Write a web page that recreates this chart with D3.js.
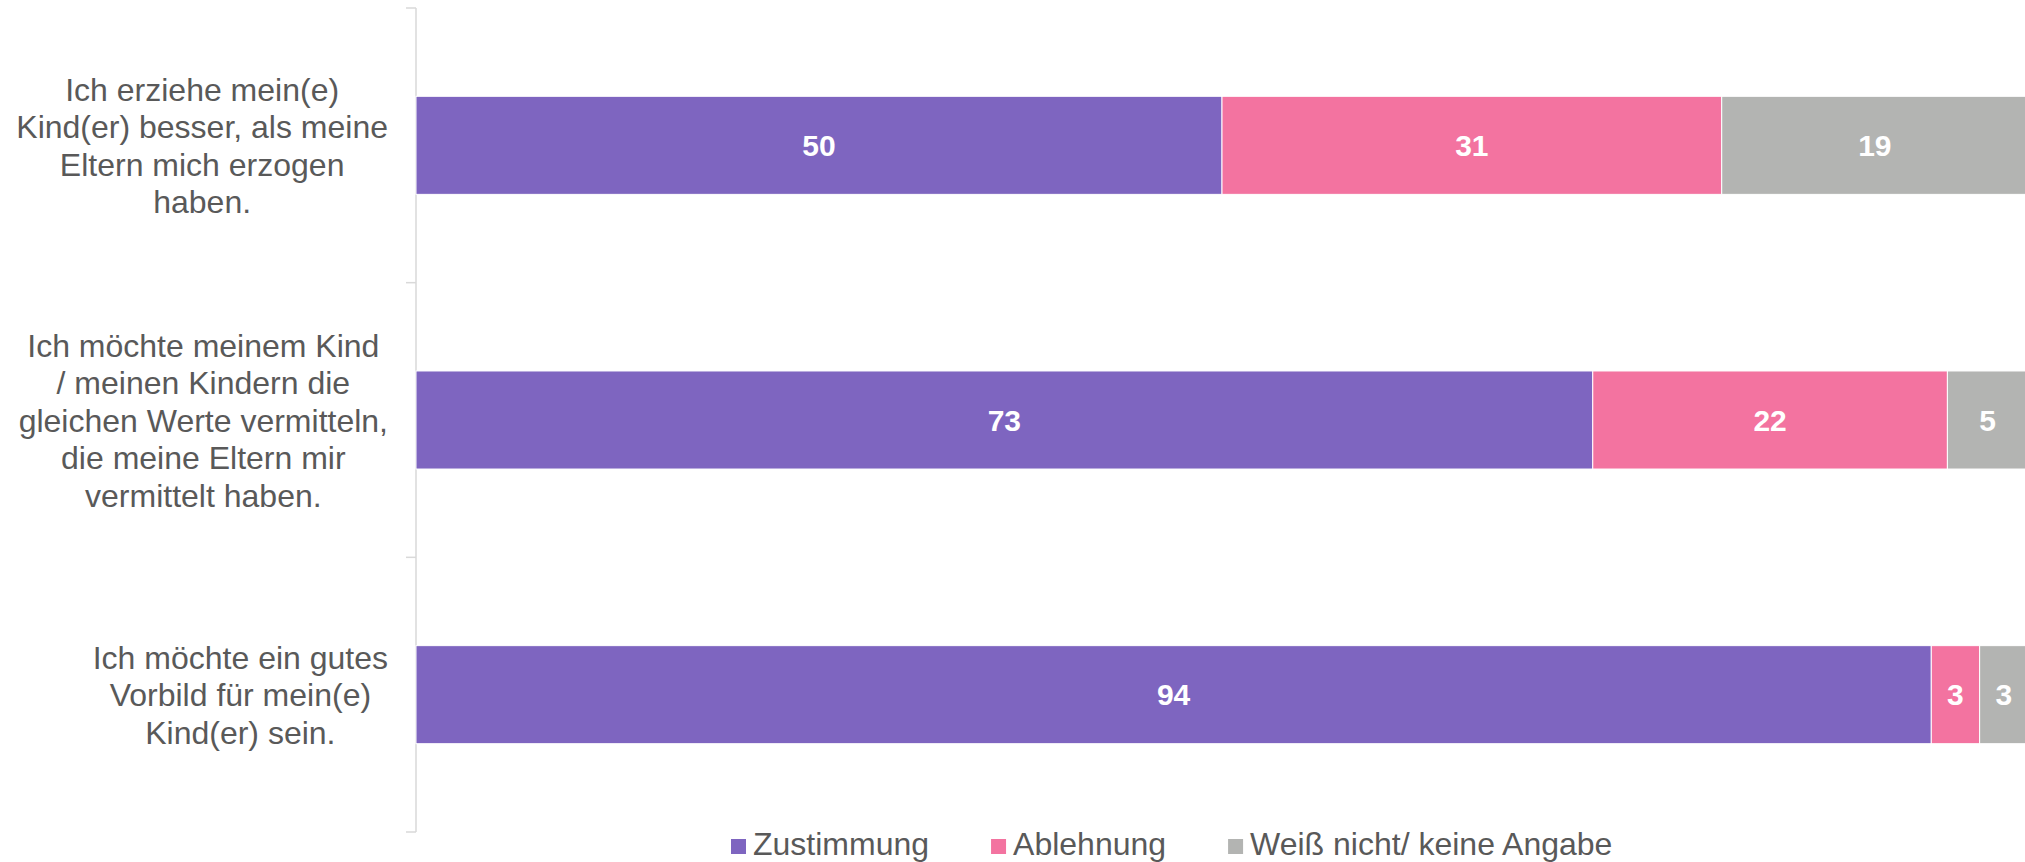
<!doctype html>
<html>
<head>
<meta charset="UTF-8">
<title>Erziehung</title>
<script src="https://d3js.org/d3.v7.min.js"></script>
<style>
  body { margin: 0; background: #fff; }
  svg { display: block; font-family: "Liberation Sans", Arial, sans-serif; }
</style>
</head>
<body>
<svg width="2025" height="862"></svg>
<script>
// data
var categories = ["erziehe", "werte", "vorbild"];
var categoryLines = [
  ["Ich erziehe mein(e)", "Kind(er) besser, als meine", "Eltern mich erzogen", "haben."],
  ["Ich möchte meinem Kind", "/ meinen Kindern die", "gleichen Werte vermitteln,", "die meine Eltern mir", "vermittelt haben."],
  ["Ich möchte ein gutes", "Vorbild für mein(e)", "Kind(er) sein."]
];
var seriesNames = ["Zustimmung", "Ablehnung", "Weiß nicht/ keine Angabe"];
var zustimmung = [50, 73, 94];
var ablehnung = [31, 22, 3];
var weissNicht = [19, 5, 3];
var colors = ["#7E65C0", "#F373A0", "#B3B4B2"];

var svg = d3.select("svg");
var textColor = "#595959";

var rows = categories.map(function(c, i){
  return { cat: c, s0: zustimmung[i], s1: ablehnung[i], s2: weissNicht[i] };
});
var stack = d3.stack().keys(["s0", "s1", "s2"])(rows);

var pad = 0.643;
var y = d3.scaleBand().domain(categories).range([8, 832])
          .paddingInner(pad).paddingOuter(pad / 2);
var x = d3.scaleLinear().domain([0, 100]).range([416, 2028]);

// axis line + ticks at band borders
var ax = svg.append("g").attr("stroke", "#D9D9D9").attr("stroke-width", 1.5);
ax.append("line").attr("x1", x(0)).attr("x2", x(0)).attr("y1", y.range()[0]).attr("y2", y.range()[1]);
d3.range(categories.length + 1).forEach(function(i){
  var yy = y.range()[0] + i * y.step();
  ax.append("line").attr("x1", x(0) - 10).attr("x2", x(0)).attr("y1", yy).attr("y2", yy);
});

// bars
stack.forEach(function(layer, k){
  var g = svg.append("g").attr("fill", colors[k]);
  g.selectAll("rect").data(layer).enter().append("rect")
    .attr("x", function(d){ return x(d[0]); })
    .attr("y", function(d){ return y(d.data.cat); })
    .attr("width", function(d){ return x(d[1]) - x(d[0]); })
    .attr("height", y.bandwidth())
    .attr("stroke", "#fff").attr("stroke-width", 1);
  svg.append("g").selectAll("text").data(layer).enter().append("text")
    .attr("x", function(d){ return (x(d[0]) + x(d[1])) / 2; })
    .attr("y", function(d){ return y(d.data.cat) + y.bandwidth() / 2; })
    .attr("dy", "0.36em")
    .attr("text-anchor", "middle")
    .attr("font-size", 30).attr("font-weight", "bold").attr("fill", "#fff")
    .text(function(d){ return d[1] - d[0]; });
});

// category labels (centered lines, block right-aligned)
var lh = 37.5;
categories.forEach(function(c, i){
  var lines = categoryLines[i];
  var cy = y(c) + y.bandwidth() / 2;
  var t = svg.append("text").attr("font-size", 32).attr("fill", textColor)
    .attr("text-anchor", "middle");
  lines.forEach(function(l, j){
    t.append("tspan").attr("y", cy - (lines.length - 1) / 2 * lh + j * lh).attr("dy", "0.36em").text(l);
  });
  var maxW = 0;
  t.selectAll("tspan").each(function(){ maxW = Math.max(maxW, this.getComputedTextLength()); });
  t.selectAll("tspan").attr("x", 388 - maxW / 2);
});

// legend
var lx = 731, ly = 855;
seriesNames.forEach(function(n, i){
  svg.append("rect").attr("x", lx).attr("y", ly - 16).attr("width", 15).attr("height", 15).attr("fill", colors[i]);
  var t = svg.append("text").attr("x", lx + 22).attr("y", ly).attr("font-size", 32).attr("fill", textColor).text(n);
  lx += 22 + t.node().getComputedTextLength() + 62;
});
</script>
</body>
</html>
